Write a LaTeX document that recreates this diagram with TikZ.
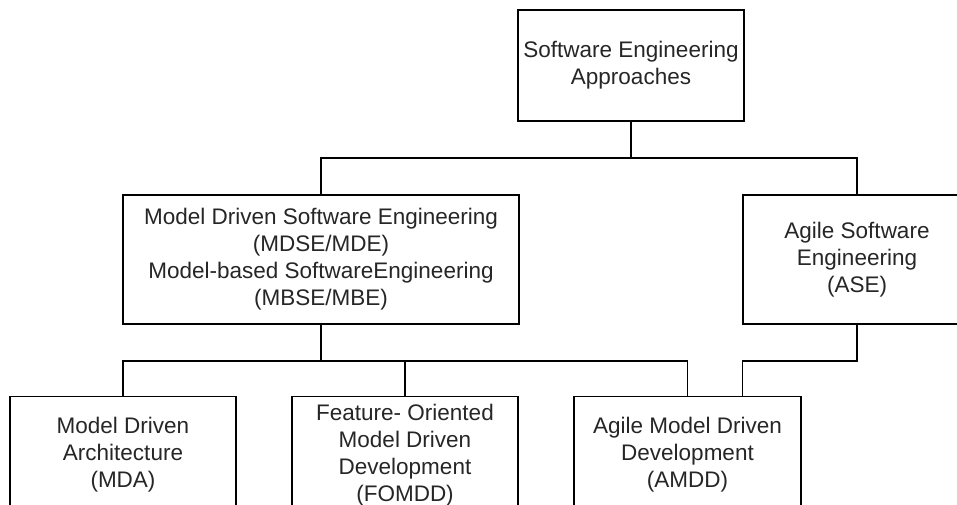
\documentclass[tikz,border=0pt]{standalone}
\usepackage{fontspec}
\setmainfont{Liberation Sans}
\begin{document}
\begin{tikzpicture}[x=1pt,y=-1pt,
  box/.style={draw=black, line width=1.5pt, rectangle, align=center, inner sep=0pt,
    font=\fontsize{22.5}{27}\selectfont, text=black!85},
  link/.style={draw=black, line width=1.5pt}]
  \clip (0,0) rectangle (957,504);
  \fill[white] (0,0) rectangle (957,504);

  % root
  \node[box, minimum width=226pt, minimum height=111pt] (root) at (631,65.5)
    {Software Engineering\\Approaches};

  % second level
  \node[box, minimum width=396pt, minimum height=129pt] (mdse) at (321,259.5)
    {Model Driven Software Engineering\\(MDSE/MDE)\\Model-based SoftwareEngineering\\(MBSE/MBE)};
  \node[box, minimum width=228pt, minimum height=129pt] (ase) at (857,259.5)
    {Agile Software\\Engineering\\(ASE)};

  % third level
  \node[box, minimum width=226pt, minimum height=117pt] (mda) at (123,455)
    {Model Driven\\Architecture\\(MDA)};
  \node[box, minimum width=226pt, minimum height=117pt] (fomdd) at (405,455)
    {Feature- Oriented\\Model Driven\\Development\\(FOMDD)};
  \node[box, minimum width=227pt, minimum height=117pt] (amdd) at (687.5,455)
    {Agile Model Driven\\Development\\(AMDD)};

  % bus lines
  \coordinate (busA) at (631,158);
  \coordinate (busB) at (321,361);

  \draw[link] (root.south) -- (root.south |- busA);
  \draw[link] (mdse.north) -- (mdse.north |- busA) -- (ase.north |- busA) -- (ase.north);

  \draw[link] (mdse.south) -- (mdse.south |- busB);
  \draw[link] (mda.north) -- (mda.north |- busB) -- (amdd.north |- busB) -- (amdd.north);
  \draw[link] (fomdd.north) -- (fomdd.north |- busB);

  \draw[link] (ase.south) -- (ase.south |- busB) -- (ase.west |- busB) -- (ase.west |- amdd.north);
\end{tikzpicture}
\end{document}
